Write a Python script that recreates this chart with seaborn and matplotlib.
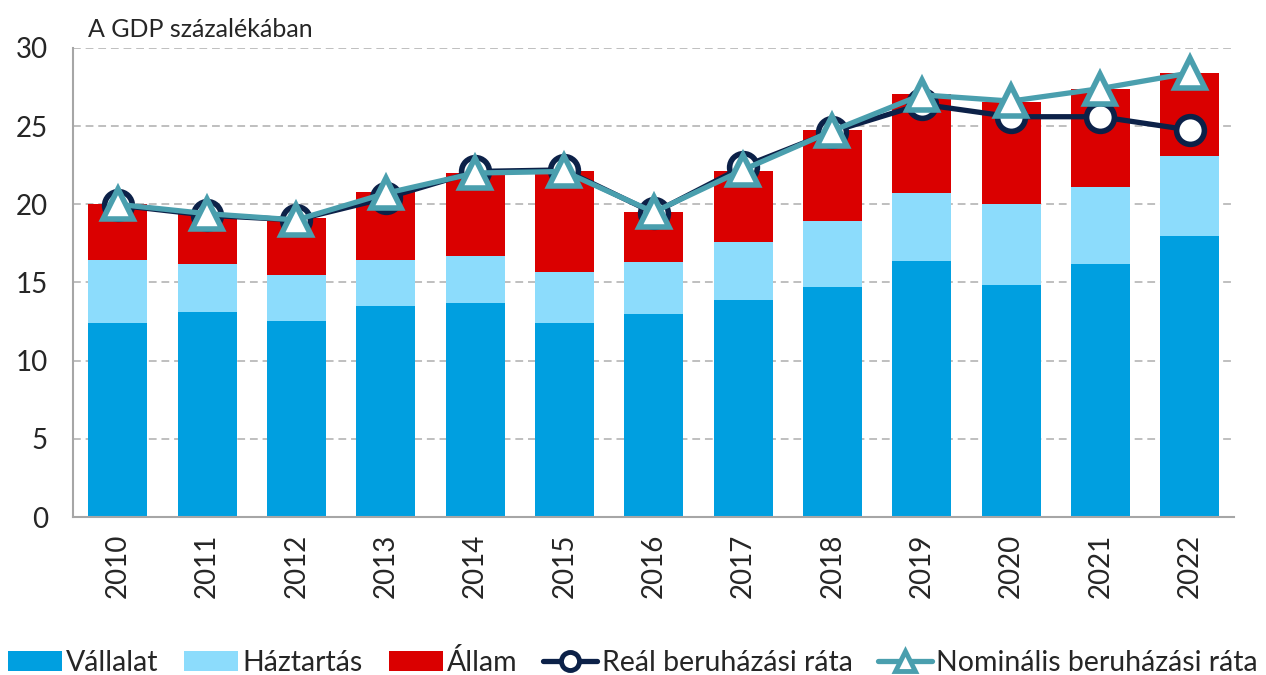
import pandas as pd
import matplotlib.pyplot as plt
import seaborn as sns
from matplotlib.patches import Patch
from matplotlib.lines import Line2D

# Data (percent of GDP)
years = ['2010', '2011', '2012', '2013', '2014', '2015', '2016',
         '2017', '2018', '2019', '2020', '2021', '2022']
vallalat = [12.4, 13.1, 12.55, 13.5, 13.7, 12.4, 13.0, 13.9, 14.7, 16.4, 14.85, 16.2, 18.0]
haztartas = [4.05, 3.1, 2.9, 2.95, 3.0, 3.25, 3.3, 3.7, 4.25, 4.35, 5.2, 4.9, 5.1]
allam = [3.6, 3.2, 3.7, 4.35, 5.3, 6.5, 3.2, 4.55, 5.8, 6.3, 6.5, 6.3, 5.3]
real_rate = [19.95, 19.3, 19.0, 20.4, 22.1, 22.2, 19.45, 22.4, 24.65, 26.4, 25.6, 25.6, 24.75]
nominal_rate = [20.0, 19.4, 19.0, 20.7, 22.0, 22.1, 19.5, 22.2, 24.7, 27.0, 26.6, 27.4, 28.4]

labels = ['Vállalat', 'Háztartás', 'Állam', 'Reál beruházási ráta', 'Nominális beruházási ráta']
c_vall = '#009FE0'
c_haz = '#8CDCFC'
c_all = '#DA0000'
c_real = '#0C2148'
c_nom = '#4A9FAE'

df = pd.DataFrame({'year': years, 'V': vallalat, 'H': haztartas, 'A': allam})
df['VH'] = df['V'] + df['H']
df['total'] = df['VH'] + df['A']

sns.set_style('white')
plt.rcParams['font.family'] = ['Lato', 'DejaVu Sans']

fig = plt.figure(figsize=(12.66, 6.75), dpi=100)
ax = fig.add_axes([0.0577, 0.234, 0.9173, 0.695])

# stacked bars: draw cumulative totals from the top down
for col, color in [('total', c_all), ('VH', c_haz), ('V', c_vall)]:
    sns.barplot(data=df, x='year', y=col, color=color, saturation=1,
                width=0.66, linewidth=0, ax=ax, zorder=2)

pos = list(range(len(years)))
ax.plot(pos, real_rate, color=c_real, lw=3.8, marker='o', ms=20,
        mfc='white', mec=c_real, mew=4, zorder=4)
ax.plot(pos, nominal_rate, color=c_nom, lw=3.8, marker='^', ms=21,
        mfc='white', mec=c_nom, mew=4, zorder=5)

ax.set_xlim(-0.5, len(years) - 0.5)
ax.set_ylim(0, 30)
ax.set_yticks(range(0, 31, 5))
ax.set_xlabel('')
ax.set_ylabel('')
ax.yaxis.grid(True, color='#BFBFBF', ls=(0, (4, 2.5)), lw=1.4, zorder=0)
ax.set_axisbelow(True)

for s in ['top', 'right']:
    ax.spines[s].set_visible(False)
for s in ['left', 'bottom']:
    ax.spines[s].set_color('#A6A6A6')
    ax.spines[s].set_linewidth(1.5)

ax.tick_params(axis='y', length=7, width=1.5, color='#A6A6A6', labelsize=20, pad=11)
ax.tick_params(axis='x', length=0, labelsize=20, pad=12, labelrotation=90)

ax.text(0.013, 1.023, 'A GDP százalékában', transform=ax.transAxes,
        fontsize=18, va='baseline', ha='left')

handles = [
    Patch(facecolor=c_vall, edgecolor='none'),
    Patch(facecolor=c_haz, edgecolor='none'),
    Patch(facecolor=c_all, edgecolor='none'),
    Line2D([], [], color=c_real, lw=3.8, marker='o', ms=13, mfc='white', mec=c_real, mew=3.5),
    Line2D([], [], color=c_nom, lw=3.8, marker='^', ms=14, mfc='white', mec=c_nom, mew=3.5),
]
fig.legend(handles, labels, loc='lower center', bbox_to_anchor=(0.5, -0.04),
           ncol=5, frameon=False, fontsize=20.5, handlelength=1.9, handleheight=0.7,
           handletextpad=0.15, columnspacing=0.9)

fig.savefig('out.png', dpi=100)
